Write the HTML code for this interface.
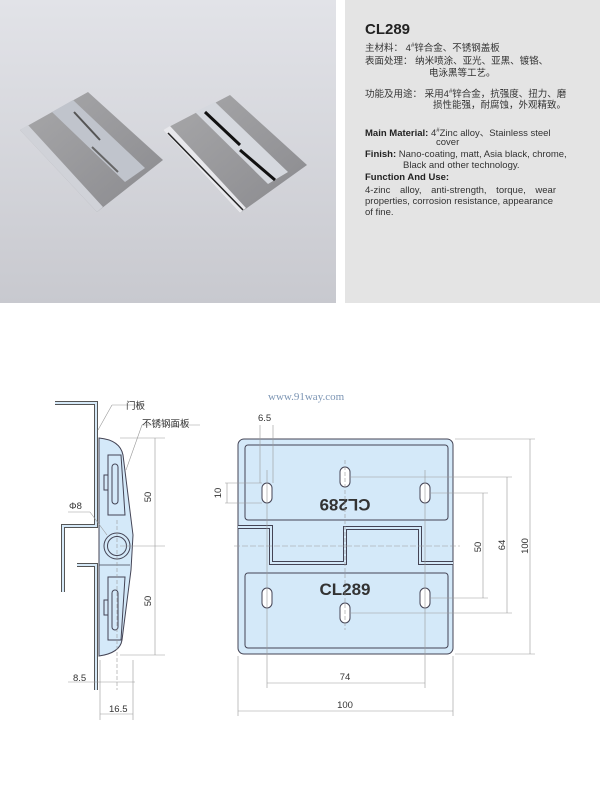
<!DOCTYPE html>
<html><head><meta charset="utf-8"><style>
body{margin:0;width:600px;height:797px;background:#fff;overflow:hidden;font-family:"Liberation Sans","Noto Sans CJK SC",sans-serif;position:relative}
.tb{position:absolute;left:345px;top:0;width:255px;height:303px;background:#e4e4e4}
.t{position:absolute;left:20px;font-size:9.5px;color:#333;white-space:nowrap;line-height:11px}
b{color:#222}
</style></head><body>
<svg width="600" height="797" style="position:absolute;left:0;top:0">
<defs>
<linearGradient id="bg" x1="0" y1="0" x2="0" y2="1"><stop offset="0" stop-color="#e2e3e8"/><stop offset="1" stop-color="#c8c9cf"/></linearGradient>
<linearGradient id="mt" x1="0" y1="0" x2="1" y2="1"><stop offset="0" stop-color="#a8a8aa"/><stop offset="1" stop-color="#8a8a8e"/></linearGradient>
</defs>
<rect x="0" y="0" width="336" height="303" fill="url(#bg)"/>
<!-- left hinge -->
<polygon points="20,130 88,92 163,160 97,212" fill="url(#mt)"/>
<polygon points="20,130 28,125 103,207 97,212" fill="#d0d2d8"/>
<polygon points="52,112 73,100 145,168 125,182" fill="#c0c4cc"/>
<line x1="74" y1="112" x2="100" y2="140" stroke="#555" stroke-width="2"/>
<line x1="92" y1="147" x2="118" y2="172" stroke="#666" stroke-width="2"/>
<!-- right hinge -->
<polygon points="163,130 230,95 307,165 240,213" fill="url(#mt)"/>
<polygon points="163,130 170,126 246,208 240,213" fill="#e8e8ec"/>
<line x1="168" y1="133" x2="243" y2="210" stroke="#222" stroke-width="1.5"/>
<polygon points="195,112 215,102 288,172 268,184" fill="#d5d8de"/>
<line x1="205" y1="112" x2="240" y2="145" stroke="#111" stroke-width="3"/>
<line x1="240" y1="150" x2="275" y2="180" stroke="#111" stroke-width="3"/>

<!-- left side view -->
<g fill="none" stroke="#555" stroke-width="4" stroke-linejoin="miter">
<path d="M55,403 H96 V526 H63 V592"/>
<path d="M77,565 H96 V690"/>
</g>
<g fill="none" stroke="#d6e9f8" stroke-width="2">
<path d="M55,403 H96 V526 H63 V592"/>
<path d="M77,565 H96 V690"/>
</g>
<path d="M99,438 Q120,440 123,455 L133,535 L131,570 L122,640 Q120,653 99,656 Z" fill="#d4e9f9" stroke="#445" stroke-width="1"/>
<line x1="99" y1="565" x2="130" y2="565" stroke="#445" stroke-width="0.8"/>
<circle cx="117" cy="546" r="13" fill="#d4e9f9" stroke="#445" stroke-width="1"/>
<circle cx="117" cy="546" r="9.5" fill="#d4e9f9" stroke="#445" stroke-width="1"/>
<g fill="none" stroke="#445" stroke-width="1">
<path d="M108,455 H121 L125,515 H108 Z"/><rect x="112" y="464" width="6" height="40" rx="3"/><path d="M108,475 H104 V490 H108"/>
<path d="M108,577 H125 L121,640 H108 Z"/><rect x="112" y="590" width="6" height="40" rx="3"/><path d="M108,600 H104 V615 H108"/>
</g>
<g stroke="#999" stroke-width="0.6" fill="none">
<line x1="117" y1="520" x2="117" y2="690" stroke-dasharray="4,2"/>
<line x1="120" y1="438" x2="165" y2="438"/><line x1="120" y1="546" x2="165" y2="546"/><line x1="120" y1="655" x2="165" y2="655"/>
<line x1="155" y1="438" x2="155" y2="655"/>
<line x1="68" y1="682" x2="135" y2="682"/>
<line x1="100" y1="660" x2="100" y2="720"/><line x1="133" y1="660" x2="133" y2="720"/>
<line x1="100" y1="714" x2="133" y2="714"/>
<line x1="98" y1="430" x2="112" y2="405"/><line x1="112" y1="405" x2="145" y2="405"/>
<line x1="126" y1="470" x2="142" y2="425"/><line x1="142" y1="425" x2="200" y2="425"/>
<line x1="68" y1="512" x2="90" y2="512"/><line x1="90" y1="512" x2="107" y2="535"/>
</g>
<g font-size="9.5" fill="#333">
<text x="126" y="409">门板</text>
<text x="142" y="427">不锈钢面板</text>
<text x="69" y="509">Φ8</text>
<text x="73" y="681">8.5</text>
<text x="109" y="712">16.5</text>
<text transform="translate(151,497) rotate(-90)" text-anchor="middle">50</text>
<text transform="translate(151,601) rotate(-90)" text-anchor="middle">50</text>
</g>

<!-- right plate -->
<text x="268" y="400" font-family="Liberation Serif,serif" font-size="11" fill="#7c95b4">www.91way.com</text>
<rect x="238" y="439" width="215" height="215" rx="6" fill="#d4e9f9" stroke="#445" stroke-width="1"/>
<polyline points="238,527 271,527 271,563 345,563 345,528 420,528 420,563 453,563" fill="none" stroke="#445" stroke-width="4"/>
<polyline points="238,527 271,527 271,563 345,563 345,528 420,528 420,563 453,563" fill="none" stroke="#d4e9f9" stroke-width="2"/>
<rect x="245" y="445" width="203" height="75" rx="3" fill="none" stroke="#445"/>
<rect x="245" y="573" width="203" height="75" rx="3" fill="none" stroke="#445"/>
<g fill="#fff" stroke="#445">
<rect x="262" y="483" width="10" height="20" rx="5"/><rect x="340" y="467" width="10" height="20" rx="5"/><rect x="420" y="483" width="10" height="20" rx="5"/>
<rect x="262" y="588" width="10" height="20" rx="5"/><rect x="340" y="603" width="10" height="20" rx="5"/><rect x="420" y="588" width="10" height="20" rx="5"/>
</g>
<text x="345" y="595" text-anchor="middle" font-size="17" font-weight="bold" fill="#333">CL289</text>
<text transform="translate(345,499) rotate(180)" text-anchor="middle" font-size="17" font-weight="bold" fill="#333">CL289</text>
<g stroke="#999" stroke-width="0.6" fill="none">
<line x1="234" y1="546" x2="460" y2="546" stroke-dasharray="6,2"/>
<line x1="260" y1="425" x2="260" y2="483"/><line x1="273" y1="425" x2="273" y2="483"/>
<line x1="225" y1="483" x2="262" y2="483"/><line x1="225" y1="503" x2="262" y2="503"/><line x1="227" y1="483" x2="227" y2="503"/>
<line x1="455" y1="439" x2="535" y2="439"/><line x1="455" y1="654" x2="535" y2="654"/>
<line x1="430" y1="493" x2="488" y2="493"/><line x1="430" y1="598" x2="488" y2="598"/>
<line x1="350" y1="477" x2="512" y2="477"/><line x1="350" y1="613" x2="512" y2="613"/>
<line x1="483" y1="493" x2="483" y2="598"/><line x1="507" y1="477" x2="507" y2="613"/><line x1="530" y1="439" x2="530" y2="654"/>
<line x1="267" y1="470" x2="267" y2="688"/><line x1="425" y1="470" x2="425" y2="688"/>
<line x1="267" y1="683" x2="425" y2="683"/>
<line x1="238" y1="656" x2="238" y2="716"/><line x1="453" y1="656" x2="453" y2="716"/>
<line x1="238" y1="711" x2="453" y2="711"/>
<line x1="345" y1="460" x2="345" y2="630" stroke-dasharray="4,2"/>
</g>
<g font-size="9.5" fill="#333">
<text x="258" y="421">6.5</text>
<text transform="translate(221,493) rotate(-90)" text-anchor="middle">10</text>
<text transform="translate(481,547) rotate(-90)" text-anchor="middle">50</text>
<text transform="translate(505,545) rotate(-90)" text-anchor="middle">64</text>
<text transform="translate(528,546) rotate(-90)" text-anchor="middle">100</text>
<text x="345" y="680" text-anchor="middle">74</text>
<text x="345" y="708" text-anchor="middle">100</text>
</g>
</svg>
<div class="tb">
<div style="position:absolute;left:20px;top:21px;font-size:15px;font-weight:bold;color:#222">CL289</div>
<div class="t" style="top:41px">主材料： 4<sup style="font-size:6px">#</sup>锌合金、不锈钢盖板</div>
<div class="t" style="top:56px">表面处理： 纳米喷涂、亚光、亚黑、镀铬、</div>
<div class="t" style="top:68px;left:84px">电泳黑等工艺。</div>
<div class="t" style="top:87px">功能及用途： 采用4<sup style="font-size:6px">#</sup>锌合金，抗强度、扭力、磨</div>
<div class="t" style="top:100px;left:88px">损性能强，耐腐蚀，外观精致。</div>
<div class="t" style="top:126px"><b>Main Material:</b> 4<sup style="font-size:6px">#</sup>Zinc alloy、Stainless steel</div>
<div class="t" style="top:137px;left:91px">cover</div>
<div class="t" style="top:149px"><b>Finish:</b> Nano-coating, matt, Asia black, chrome,</div>
<div class="t" style="top:160px;left:58px">Black and other technology.</div>
<div class="t" style="top:172px"><b>Function And Use:</b></div>
<div class="t" style="top:185px;word-spacing:7px">4-zinc alloy, anti-strength, torque, wear</div>
<div class="t" style="top:196px">properties, corrosion resistance, appearance</div>
<div class="t" style="top:207px">of fine.</div>
</div>
</body></html>
